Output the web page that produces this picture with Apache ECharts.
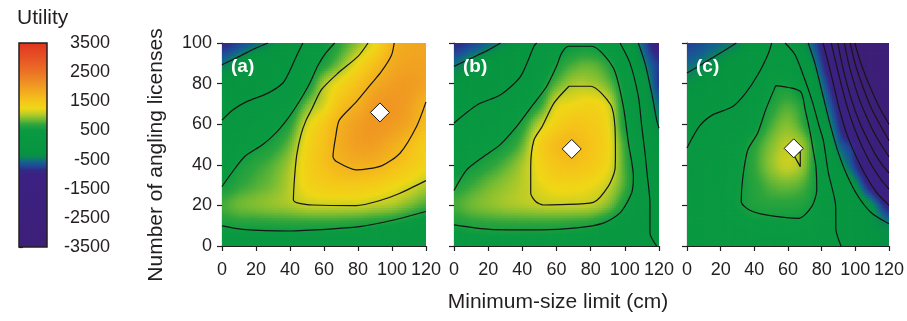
<!DOCTYPE html>
<html>
<head>
<meta charset="utf-8">
<script src="https://cdn.jsdelivr.net/npm/echarts@6/dist/echarts.min.js"></script>
<style>
  html, body { margin: 0; padding: 0; background: #fff; }
  #chart { width: 907px; height: 321px; }
</style>
</head>
<body>
<div id="chart"></div>
<script>
// grid nodes: minimum-size limit (cm) and number of licenses
var sizeLimits = [0, 10, 20, 30, 40, 50, 60, 70, 80, 90, 100, 110, 120];
var licenses = [100, 90, 80, 70, 60, 50, 40, 30, 20, 10, 0];
var utilityTicks = [-3500, -2500, -1500, -500, 500, 1500, 2500, 3500];

// utility surfaces, one row per licenses value (100 -> 0)
var utilityA = [
  [-880, -720, -540, -380, -50, 150, 450, 700, 950, 1250, 1680, 1850, 1850],
  [-520, -280, -100, 20, 80, 350, 600, 900, 1250, 1550, 1800, 1900, 1900],
  [-200, -100, -20, 50, 180, 500, 1000, 1300, 1550, 1800, 1950, 2000, 1900],
  [-60, 60, 180, 280, 420, 850, 1150, 1550, 1750, 2000, 2050, 1950, 1700],
  [130, 230, 330, 450, 650, 1150, 1450, 1750, 1950, 2050, 2000, 1850, 1600],
  [300, 400, 500, 620, 850, 1300, 1550, 1800, 1950, 1950, 1800, 1600, 1400],
  [420, 560, 680, 800, 1000, 1350, 1550, 1700, 1750, 1720, 1600, 1450, 1300],
  [540, 680, 780, 880, 1050, 1300, 1400, 1450, 1450, 1400, 1300, 1180, 1050],
  [750, 850, 900, 950, 1000, 1080, 1100, 1100, 1100, 1050, 1000, 880, 750],
  [560, 600, 600, 610, 620, 620, 620, 610, 580, 540, 500, 420, 350],
  [300, 300, 300, 300, 320, 320, 320, 320, 300, 300, 280, 260, 250]
];
var utilityB = [
  [-880, -740, -560, -380, -100, 130, 350, 480, 500, 350, 50, -550, -1100],
  [-540, -320, -180, -60, 60, 250, 560, 750, 800, 650, 250, -350, -800],
  [-250, -120, 0, 60, 180, 450, 800, 1000, 1000, 850, 450, -50, -800],
  [-60, 70, 150, 250, 400, 650, 1150, 1250, 1300, 1150, 500, -50, -550],
  [110, 200, 300, 400, 620, 1050, 1350, 1500, 1450, 1250, 550, 0, -420],
  [260, 350, 450, 570, 820, 1350, 1600, 1650, 1500, 1300, 700, 150, -250],
  [380, 520, 650, 800, 1000, 1300, 1500, 1550, 1450, 1250, 750, 200, -150],
  [600, 720, 850, 950, 1050, 1200, 1300, 1300, 1250, 1100, 750, 250, -100],
  [750, 850, 920, 980, 1020, 1060, 1080, 1080, 1050, 900, 560, 200, -50],
  [560, 620, 640, 650, 650, 650, 640, 620, 580, 450, 300, 150, -50],
  [350, 380, 400, 400, 400, 400, 400, 380, 350, 300, 220, 170, 60]
];
var utilityC = [
  [-760, -660, -540, -430, -100, 120, 90, -380, -950, -2050, -3520, -3800, -3850],
  [-560, -450, -300, -150, 20, 200, 200, -150, -750, -1750, -3100, -3900, -3900],
  [-350, -200, -80, 30, 130, 450, 520, 150, -500, -1350, -2700, -3750, -3900],
  [-200, -60, 40, 120, 300, 600, 750, 520, -300, -1000, -2000, -3300, -3800],
  [-50, 110, 200, 290, 450, 750, 900, 650, -50, -800, -1800, -2700, -3500],
  [80, 200, 300, 420, 650, 900, 1050, 900, 250, -550, -1000, -2100, -2900],
  [200, 280, 360, 480, 700, 950, 1100, 900, 300, -250, -800, -1650, -2300],
  [280, 340, 400, 500, 650, 800, 850, 750, 400, -50, -350, -1100, -1750],
  [330, 380, 430, 520, 620, 650, 650, 600, 400, 50, -150, -380, -1000],
  [350, 380, 400, 430, 470, 480, 480, 460, 350, 80, -150, -300, -420],
  [350, 360, 370, 380, 400, 400, 400, 380, 300, 150, -100, -250, -350]
];

// contour lines, [size limit, licenses]
var contoursA = [
  [[0, 89.3], [10.2, 93.4], [20, 97.5], [27, 100]],
  [[0, 62], [6.3, 67], [14.2, 71], [27, 75.3], [35.8, 80.3], [39.7, 86], [43.7, 93.4], [47.6, 100]],
  [[0, 29.3], [6.3, 36.7], [13.2, 44], [24, 50], [32, 56], [38, 62], [43, 68], [47.5, 74], [51.5, 80], [56.5, 89], [61, 95], [66.3, 100]],
  [[0, 9.9], [12, 8.2], [40, 7.4], [65, 8.4], [81, 9.5], [101, 12.8], [120, 17]],
  [[85.9, 100], [80, 93.4], [68.3, 85.2], [58.5, 77], [52.7, 67.2], [49.5, 62], [46.5, 55], [44, 45], [42.7, 34], [42, 22.7], [45.6, 21], [53.5, 20.2], [79, 19.9], [92.9, 22.4], [104.7, 26], [120, 32.2]],
  [[101.3, 100], [99.7, 94], [93.8, 86], [87.9, 80], [79, 71], [69, 62], [66.9, 54], [65.3, 44], [67.3, 41.6], [79, 37.5], [93.8, 39.5], [104.7, 45.7], [114.5, 59], [120, 71]]
];
var contoursB = [
  [[0, 88.5], [10, 92.5], [20, 96.5], [27.3, 100]],
  [[0, 60.6], [13.7, 69.6], [27.3, 74.5], [39, 83.6], [46.8, 98.4], [48.4, 100]],
  [[0, 27.3], [7.4, 37.5], [17.2, 44], [26.9, 49.8], [36.7, 58.9], [45.5, 68.8], [54.2, 78.6], [60, 88.5], [63, 95], [67, 98.4], [80.6, 98.4], [93.3, 87.7], [99.1, 68.8], [102.1, 50.7], [105, 34.3], [104, 26.1], [97.2, 16.3], [87.4, 11.3], [71.8, 8.9], [50.3, 7.9], [21, 8.2], [0, 10.4]],
  [[67.3, 78.7], [80, 78.7], [91.7, 69.6], [94.2, 59], [94.5, 45], [94.2, 37.6], [90.3, 29.4], [81.6, 21.5], [62, 20.4], [52.3, 20.2], [47.8, 21.9], [44.9, 26], [44.9, 39.1], [46.8, 52.2], [51.7, 59], [58.5, 70.4], [67.3, 78.7]],
  [[97.2, 100], [103, 90.1], [107.9, 73.7], [109.9, 59], [111.8, 45.8], [113.2, 34.3], [114.7, 21.2], [114.7, 6.4], [118.6, 0]],
  [[107.9, 100], [111.8, 90.1], [115.7, 75.4], [118.6, 62.2], [120, 58]]
];
var contoursC = [
  [[0, 85.2], [11.7, 91], [21.5, 95.9], [29.3, 100]],
  [[0, 48.3], [7.4, 59], [15.2, 64.6], [27, 68.6], [34.7, 75.2], [42.5, 85], [48.4, 95], [50.3, 100]],
  [[58.3, 100], [64.2, 94.2], [70, 82], [74.5, 71], [78.5, 59], [81, 52], [84, 36], [88.3, 20], [88.5, 8], [91.5, 0]],
  [[52.7, 79], [67.3, 76.2], [70.2, 67.2], [73.2, 55.7], [75, 47], [76.6, 39], [77.1, 27.6], [74.1, 19.4], [66.3, 13.6], [46.8, 15.3], [37.1, 17.7], [32.2, 21.8], [33.2, 34.1], [36.1, 47.3], [42, 55.7], [46.8, 67.2], [52.7, 79]],
  [[63.4, 44.8], [67.3, 46.5], [67.3, 39.1], [63.4, 44.8]],
  [[72, 100], [76, 90], [80.5, 75], [85, 60], [89.5, 47], [95, 35], [102, 24], [110, 16], [120, 11]],
  [[80.8, 100], [84, 90], [87.5, 78], [91, 66], [95, 55], [100, 45], [106, 35], [113, 26], [120, 20]],
  [[85.7, 100], [88.5, 90], [91.5, 80], [95, 69], [99, 59], [104, 49], [109.5, 40], [115, 33], [120, 28]],
  [[89.6, 100], [92, 90], [95, 80], [98.5, 70], [102.5, 61], [107, 53], [112, 45], [116, 40], [120, 36]],
  [[93.5, 100], [96, 90], [99, 81], [102.5, 72], [106.5, 64], [111, 56], [116, 49], [120, 44]],
  [[97, 100], [99.5, 91], [102.5, 83], [106, 75], [110, 67], [114.5, 60], [120, 52]],
  [[99.7, 100], [102.5, 92], [106, 84], [110, 76], [114.5, 68], [120, 60]]
];

// optimum (white diamond) per panel
var optimumA = [92.9, 65.8];
var optimumB = [68.9, 47.8];
var optimumC = [63.4, 48.1];

// colour scale of the legend bar
var colorStops = [
  [-3500, '#3d1f78'], [-1000, '#3b2182'], [-850, '#302b87'], [-700, '#1f4b97'],
  [-560, '#12658c'], [-430, '#0b8656'], [-300, '#079441'], [500, '#0a9a41'],
  [700, '#2fa53d'], [880, '#78bc33'], [1050, '#b9cc28'], [1250, '#efd716'],
  [1500, '#f5c51a'], [2000, '#f09b22'], [2500, '#ec7125'], [3000, '#e65124'], [3500, '#e0341f']
];

var FONT = '"Liberation Sans", Arial, Helvetica, sans-serif';
var INK = '#231f20';
var SUB = 8;

function hexRgb(h) {
  return [parseInt(h.substr(1, 2), 16), parseInt(h.substr(3, 2), 16), parseInt(h.substr(5, 2), 16)];
}
var stopRgb = colorStops.map(function (s) { return [s[0], hexRgb(s[1])]; });

function colorOf(v) {
  if (v <= stopRgb[0][0]) v = stopRgb[0][0];
  if (v >= stopRgb[stopRgb.length - 1][0]) v = stopRgb[stopRgb.length - 1][0];
  for (var k = 0; k < stopRgb.length - 1; k++) {
    var a = stopRgb[k], b = stopRgb[k + 1];
    if (v <= b[0]) {
      var t = (v - a[0]) / (b[0] - a[0]);
      var c = [0, 1, 2].map(function (n) { return Math.round(a[1][n] + (b[1][n] - a[1][n]) * t); });
      return 'rgb(' + c.join(',') + ')';
    }
  }
  return colorStops[colorStops.length - 1][1];
}

// catmull-rom blend, used only for the shading between grid nodes
function cr(p0, p1, p2, p3, t) {
  return 0.5 * (2 * p1 + (p2 - p0) * t + (2 * p0 - 5 * p1 + 4 * p2 - p3) * t * t + (3 * p1 - p0 - 3 * p2 + p3) * t * t * t);
}
function at(values, r, i) {
  r = Math.max(0, Math.min(values.length - 1, r));
  i = Math.max(0, Math.min(values[0].length - 1, i));
  return values[r][i];
}
function sample(values, r, i, w, u) {
  var rows = [];
  for (var d = -1; d <= 2; d++) {
    rows.push(cr(at(values, r + d, i - 1), at(values, r + d, i), at(values, r + d, i + 1), at(values, r + d, i + 2), u));
  }
  return cr(rows[0], rows[1], rows[2], rows[3], w);
}

function shadeRenderer(values) {
  return function (params, api) {
    var i = sizeLimits.indexOf(api.value(0));
    var r = licenses.indexOf(api.value(1));
    if (i < 0 || r < 0 || i >= sizeLimits.length - 1 || r >= licenses.length - 1) return null;
    var p0 = api.coord([sizeLimits[i], licenses[r]]);
    var p1 = api.coord([sizeLimits[i + 1], licenses[r + 1]]);
    var cw = (p1[0] - p0[0]) / SUB, ch = (p1[1] - p0[1]) / SUB;
    var kids = [];
    for (var a = 0; a < SUB; a++) {
      for (var b = 0; b < SUB; b++) {
        var v = sample(values, r, i, (b + 0.5) / SUB, (a + 0.5) / SUB);
        kids.push({
          type: 'rect',
          shape: { x: p0[0] + a * cw, y: p0[1] + b * ch, width: cw + 0.8, height: ch + 0.8 },
          style: { fill: colorOf(v) }
        });
      }
    }
    return { type: 'group', silent: true, children: kids };
  };
}

function nodes(values) {
  var out = [];
  licenses.forEach(function (y, r) {
    sizeLimits.forEach(function (x, i) { out.push([x, y, values[r][i]]); });
  });
  return out;
}

var panels = [
  { values: utilityA, lines: contoursA, best: optimumA, tag: '(a)', left: 222, width: 204 },
  { values: utilityB, lines: contoursB, best: optimumB, tag: '(b)', left: 454, width: 205 },
  { values: utilityC, lines: contoursC, best: optimumC, tag: '(c)', left: 687, width: 205 }
];

var grids = [], xAxes = [], yAxes = [], series = [], titles = [];

panels.forEach(function (p, k) {
  grids.push({ left: p.left, top: 43, width: p.width, height: 203 });
  xAxes.push({
    gridIndex: k, type: 'value', min: 0, max: 120, interval: 20,
    axisLine: { show: true, lineStyle: { color: INK, width: 1.2 } },
    axisTick: { show: true, length: 5, lineStyle: { color: INK, width: 1.2 } },
    axisLabel: { color: INK, fontSize: 18, fontFamily: FONT, margin: 15, showMinLabel: true, showMaxLabel: true, hideOverlap: false },
    splitLine: { show: false }
  });
  yAxes.push({
    gridIndex: k, type: 'value', min: 0, max: 100, interval: 20,
    axisLine: { show: true, lineStyle: { color: INK, width: 1.2 } },
    axisTick: { show: true, length: 5, lineStyle: { color: INK, width: 1.2 } },
    axisLabel: { show: k === 0, color: INK, fontSize: 18, fontFamily: FONT, margin: 10 },
    splitLine: { show: false }
  });
  series.push({
    type: 'custom', xAxisIndex: k, yAxisIndex: k, clip: true, silent: true, z: 1,
    renderItem: shadeRenderer(p.values),
    encode: { x: 0, y: 1 },
    data: nodes(p.values)
  });
  p.lines.forEach(function (line) {
    series.push({
      type: 'line', xAxisIndex: k, yAxisIndex: k, data: line, z: 3, silent: true,
      showSymbol: false, symbol: 'none', smooth: 0.25, clip: true,
      lineStyle: { color: '#161616', width: 1.2 }
    });
  });
  series.push({
    type: 'scatter', xAxisIndex: k, yAxisIndex: k, z: 5, silent: true,
    symbol: 'diamond', symbolSize: 19, data: [p.best],
    itemStyle: { color: '#ffffff', opacity: 1, borderColor: '#161616', borderWidth: 1 }
  });
  titles.push({
    text: p.tag, left: p.left + 4, top: 52,
    textStyle: { color: '#ffffff', fontWeight: 'bold', fontSize: 19, fontFamily: FONT }
  });
});

// legend colour bar
grids.push({ left: 19, top: 43, width: 28, height: 204 });
xAxes.push({ gridIndex: 3, type: 'value', min: 0, max: 1, show: false });
yAxes.push({
  gridIndex: 3, type: 'value', position: 'right',
  min: utilityTicks[0], max: utilityTicks[utilityTicks.length - 1], interval: 1000,
  axisLine: { show: false },
  axisTick: { show: true, length: 4, lineStyle: { color: INK, width: 1.2 } },
  axisLabel: { color: INK, fontSize: 18, fontFamily: FONT, align: 'right', margin: 63, formatter: function (v) { return String(v); } },
  splitLine: { show: false }
});
series.push({
  type: 'custom', xAxisIndex: 3, yAxisIndex: 3, silent: true, z: 2,
  data: [[0, utilityTicks[0]]],
  renderItem: function (params, api) {
    var lo = utilityTicks[0], hi = utilityTicks[utilityTicks.length - 1];
    var top = api.coord([0, hi]), bot = api.coord([1, lo]);
    var stops = colorStops.map(function (s) { return { offset: (hi - s[0]) / (hi - lo), color: s[1] }; }).reverse();
    return {
      type: 'rect',
      shape: { x: top[0], y: top[1], width: bot[0] - top[0], height: bot[1] - top[1] },
      style: { fill: new echarts.graphic.LinearGradient(0, 0, 0, 1, stops), stroke: INK, lineWidth: 1.5 }
    };
  }
});
titles.push({ text: 'Utility', left: 12, top: 3, textStyle: { color: INK, fontSize: 21, fontWeight: 'normal', fontFamily: FONT } });

var chart = echarts.init(document.getElementById('chart'));
chart.setOption({
  animation: false,
  backgroundColor: '#ffffff',
  title: titles,
  grid: grids,
  xAxis: xAxes,
  yAxis: yAxes,
  series: series,
  graphic: [
    {
      type: 'text', x: 156, y: 155, rotation: Math.PI / 2,
      style: { text: 'Number of angling licenses', fill: INK, fontSize: 21, fontFamily: FONT, textAlign: 'center', textVerticalAlign: 'middle' }
    },
    {
      type: 'text', x: 558, y: 302,
      style: { text: 'Minimum-size limit (cm)', fill: INK, fontSize: 21, fontFamily: FONT, textAlign: 'center', textVerticalAlign: 'middle' }
    }
  ]
});
</script>
</body>
</html>
